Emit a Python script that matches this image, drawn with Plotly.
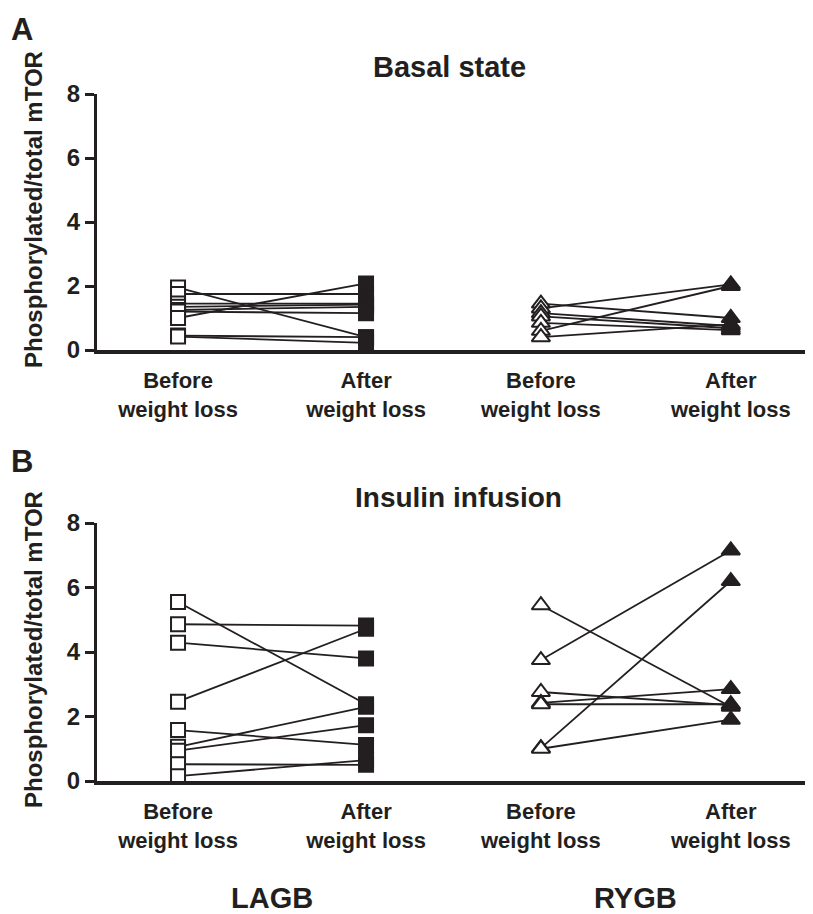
import plotly.graph_objects as go

# ---------------- data ----------------
categories = ["Before<br>weight loss", "After<br>weight loss"]
groups = ["LAGB", "RYGB"]
y_ticks = [0, 2, 4, 6, 8]

# Panel A: basal state
lagb_basal_before = [1.95, 1.75, 1.45, 1.35, 1.25, 1.20, 1.00, 0.45, 0.42]
lagb_basal_after  = [0.40, 1.75, 1.45, 1.42, 1.35, 1.15, 2.08, 0.40, 0.22]
rygb_basal_before = [1.45, 1.30, 1.15, 1.05, 0.85, 0.60, 0.40]
rygb_basal_after  = [1.00, 2.05, 0.75, 0.68, 0.62, 2.00, 0.80]

# Panel B: insulin infusion
lagb_ins_before = [5.55, 4.86, 4.29, 2.46, 1.58, 1.06, 0.94, 0.52, 0.15]
lagb_ins_after  = [2.38, 4.82, 3.80, 4.72, 1.12, 2.30, 1.73, 0.50, 0.65]
rygb_ins_before = [5.45, 3.75, 2.76, 2.42, 2.38, 1.02, 1.00]
rygb_ins_after  = [2.30, 7.15, 2.35, 2.85, 2.38, 6.20, 1.90]

# ---------------- layout helpers ----------------
W, H = 813, 914
OFF = 8  # page body margin
INK = "#231f20"
FONT = "Liberation Sans, Arial, sans-serif"
group_x = {"LAGB": (1.0, 2.0), "RYGB": (2.93, 3.94)}
group_symbol = {"LAGB": "square", "RYGB": "triangle-up"}
group_size = {"LAGB": 14, "RYGB": 16}


def py(p):
    return 1 - (p - OFF) / H


def px(p):
    return (p - OFF) / W


fig = go.Figure()

panels = [
    ("", "y", {"LAGB": (lagb_basal_before, lagb_basal_after),
               "RYGB": (rygb_basal_before, rygb_basal_after)}),
    ("2", "y2", {"LAGB": (lagb_ins_before, lagb_ins_after),
                 "RYGB": (rygb_ins_before, rygb_ins_after)}),
]

for xs, ys, data in panels:
    for g in groups:
        before, after = data[g]
        x0, x1 = group_x[g]
        for b, a in zip(before, after):
            fig.add_trace(go.Scatter(
                x=[x0, x1], y=[b, a], mode="lines+markers",
                xaxis="x" + xs, yaxis=ys,
                line=dict(color=INK, width=1.8),
                marker=dict(symbol=group_symbol[g], size=group_size[g],
                            color=["white", INK],
                            line=dict(color=INK, width=2)),
                cliponaxis=False, showlegend=False, hoverinfo="skip",
            ))

tickvals = [group_x["LAGB"][0], group_x["LAGB"][1], group_x["RYGB"][0], group_x["RYGB"][1]]
ticktext = categories * 2

xdom = [px(97), px(806)]
xcommon = dict(range=[0.569, 4.34], domain=xdom, showgrid=False, zeroline=False,
               showline=True, linecolor=INK, linewidth=3.5, ticks="",
               tickvals=tickvals, ticktext=ticktext, ticklabelstandoff=8,
               automargin=False,
               tickfont=dict(family=FONT, size=22, color=INK, weight="bold"))
ycommon = dict(range=[0, 8], showgrid=False, zeroline=False, showline=True,
               linecolor=INK, linewidth=3, ticks="outside", ticklen=9,
               tickwidth=2.5, tickcolor=INK, tickvals=y_ticks, automargin=False,
               tickfont=dict(family=FONT, size=24, color=INK, weight="bold"))

fig.update_layout(
    width=W, height=H, margin=dict(l=0, r=0, t=0, b=0, autoexpand=False),
    paper_bgcolor="white", plot_bgcolor="white",
    xaxis=dict(anchor="y", **xcommon),
    yaxis=dict(anchor="x", domain=[py(350), py(94)], **ycommon),
    xaxis2=dict(anchor="y2", **xcommon),
    yaxis2=dict(anchor="x2", domain=[py(781), py(523)], **ycommon),
)

ann = []
def text(t, x, y, size, xanchor="center", yanchor="middle", angle=0, xref="paper"):
    ann.append(dict(text=t, x=x, y=y, xref=xref, yref="paper", showarrow=False,
                    xanchor=xanchor, yanchor=yanchor, textangle=angle,
                    font=dict(family=FONT, size=size, color=INK, weight="bold")))

text("A", px(9), py(30), 31, xanchor="left")
text("B", px(9), py(461), 31, xanchor="left")
text("Basal state", px(450), py(67), 29)
text("Insulin infusion", px(458), py(497), 28)
text("Phosphorylated/total mTOR", px(33), py(210), 24, angle=-90)
text("Phosphorylated/total mTOR", px(33), py(650), 24, angle=-90)
text("LAGB", sum(group_x["LAGB"]) / 2, py(898), 29, xref="x2")
text("RYGB", sum(group_x["RYGB"]) / 2, py(898), 29, xref="x2")
fig.update_layout(annotations=ann)

fig.write_html("out.html")
